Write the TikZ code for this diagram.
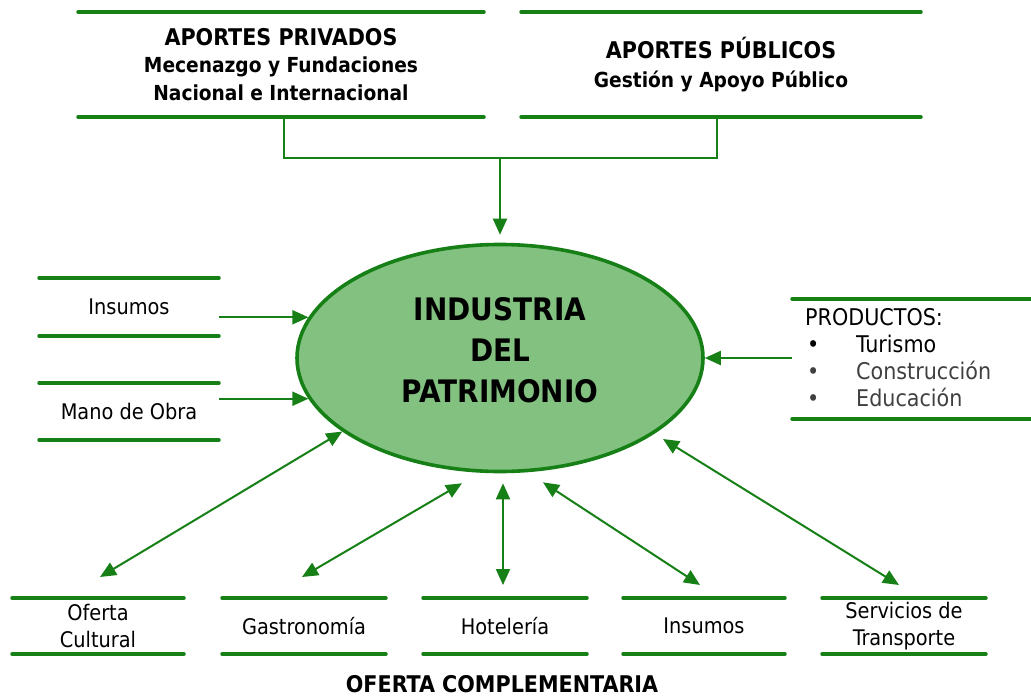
\documentclass[tikz,border=0pt]{standalone}
\usepackage{fontspec}
\setmainfont{DejaVu Sans Condensed}
\usetikzlibrary{arrows.meta,shapes.geometric}
\definecolor{gline}{RGB}{22,128,22}
\definecolor{gfill}{RGB}{130,193,128}
\definecolor{gtext}{RGB}{64,64,64}
\begin{document}
\begin{tikzpicture}[x=1pt,y=-1pt,
  bar/.style={draw=gline,line width=3.5pt,line cap=round},
  conn/.style={draw=gline,line width=2pt},
  arr/.style={conn,-{Triangle[length=16pt,width=14pt]}},
  darr/.style={conn,{Triangle[length=16pt,width=14pt]}-{Triangle[length=16pt,width=14pt]}},
  hbox/.style={inner sep=0pt,outer sep=0pt,align=center,minimum height=#1},
  med/.style={font=\fontsize{21.5}{27}\selectfont},
]
\useasboundingbox (0,0) rectangle (1031,696);
% top boxes
\node[hbox=105pt,minimum width=406pt,font=\fontsize{20.7}{27.5}\selectfont\bfseries] (priv) at (281,64.5)
  {{\fontsize{23}{27.5}\selectfont APORTES PRIVADOS}\\
   Mecenazgo y Fundaciones\\
   Nacional e Internacional};
\node[hbox=105pt,minimum width=400pt,font=\fontsize{20.7}{29}\selectfont\bfseries] (pub) at (721,64.5)
  {{\fontsize{23}{29}\selectfont APORTES PÚBLICOS}\\
   Gestión y Apoyo Público};
% ellipse
\node[ellipse,draw=gline,fill=gfill,line width=3.6pt,minimum width=406pt,minimum height=227pt,inner sep=0pt] (ind) at (500,358) {};
\node[align=center,inner sep=0pt,font=\fontsize{31}{41}\selectfont\bfseries] (indt) at (500,350) {INDUSTRIA\\DEL\\PATRIMONIO};
% left boxes
\node[hbox=58pt,minimum width=180pt,med] (ins) at (129,307) {Insumos};
\node[hbox=57pt,minimum width=180pt,med] (mano) at (129,411.5) {Mano de Obra};
% right box
\node[hbox=120pt,minimum width=239pt] (prod) at (911.5,359) {};
\node[anchor=north west,inner sep=0pt,align=left,font=\fontsize{23}{27}\selectfont] (prodt) at (805,308)
  {PRODUCTOS:\\
   \makebox[51pt][l]{\hspace*{2pt}•}Turismo\\
   \makebox[51pt][l]{\hspace*{2pt}\textcolor{gtext}{•}}\textcolor{gtext}{Construcción}\\
   \makebox[51pt][l]{\hspace*{2pt}\textcolor{gtext}{•}}\textcolor{gtext}{Educación}};
% bottom boxes
\node[hbox=56pt,minimum width=172pt,med] (ofe) at (98,626) {Oferta\\Cultural};
\node[hbox=56pt,minimum width=164pt,med] (gas) at (304,626) {Gastronomía};
\node[hbox=56pt,minimum width=164pt,med] (hot) at (505,626) {Hotelería};
\node[hbox=56pt,minimum width=162pt,med] (ins2) at (704,626) {Insumos};
\node[hbox=56pt,minimum width=164pt,med] (serv) at (904,626) {Servicios de\\Transporte};
\node[font=\fontsize{23}{27}\selectfont\bfseries,inner sep=0pt] (comp) at (502,684) {OFERTA COMPLEMENTARIA};
% bars
\foreach \n in {priv,pub,ins,mano,prod,ofe,gas,hot,ins2,serv}{
  \draw[bar] (\n.north west) -- (\n.north east);
  \draw[bar] (\n.south west) -- (\n.south east);
}
% top connector
\coordinate (j) at (500,158);
\draw[conn] ([xshift=3pt]priv.south) |- (j) -| ([xshift=-4pt]pub.south);
\draw[arr,shorten >=8pt] (j) -- (ind.north);
% side arrows
\coordinate (e1) at (ind.168.4);
\coordinate (e2) at (ind.192.2);
\draw[arr] (e1 -| ins.east) -- (e1);
\draw[arr] (e2 -| mano.east) -- (e2);
\draw[arr] (prod.west |- ind.east) -- (ind.east);
% double arrows
\draw[darr] (ind.205.8) -- ([shift={(2,-21)}]ofe.north);
\draw[darr] ([shift={(-38,10)}]ind.south) -- ([shift={(-2,-21)}]gas.north);
\draw[darr] ([shift={(3,10)}]ind.south) -- ([shift={(-2,-13)}]hot.north);
\draw[darr] ([shift={(43,9)}]ind.south) -- ([shift={(-4,-13)}]ins2.north);
\draw[darr] ([shift={(163,81)}]ind.center) -- ([shift={(-5,-13)}]serv.north);
\end{tikzpicture}
\end{document}
